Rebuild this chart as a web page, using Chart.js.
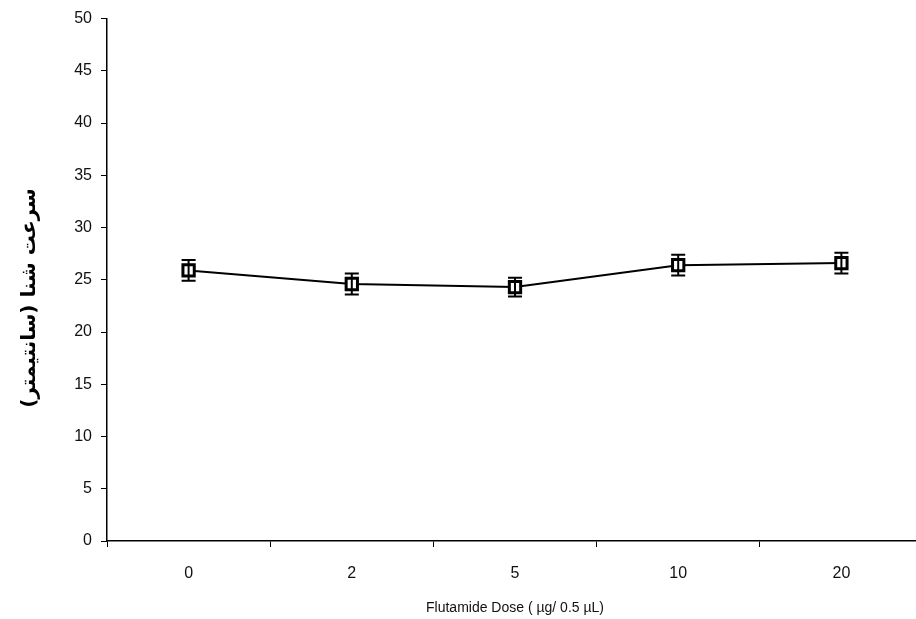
<!DOCTYPE html>
<html>
<head>
<meta charset="utf-8">
<script src="https://cdn.jsdelivr.net/npm/chart.js@4.4.1/dist/chart.umd.min.js"></script>
<style>
  html, body { margin: 0; padding: 0; background: #fff; overflow: hidden; }
  #wrap { width: 934px; height: 619px; }
</style>
</head>
<body>
<div id="wrap"><canvas id="c" width="934" height="619"></canvas></div>
<script>
const doses = ['0', '2', '5', '10', '20'];
const swimSpeed = [25.9, 24.6, 24.3, 26.4, 26.6];
const speedError = [1.0, 1.0, 0.9, 1.0, 1.0];
const yTicks = [0, 5, 10, 15, 20, 25, 30, 35, 40, 45, 50];
const xTitle = 'Flutamide Dose ( µg/ 0.5 µL)';
const yTitle = 'سرعت شنا (سانتیمتر)';

const errorBars = {
  id: 'errorBars',
  afterDatasetsDraw(chart) {
    const ctx = chart.ctx;
    const meta = chart.getDatasetMeta(0);
    const y = chart.scales.y;
    ctx.save();
    ctx.strokeStyle = '#000';
    ctx.lineWidth = 2;
    meta.data.forEach((pt, i) => {
      const top = y.getPixelForValue(swimSpeed[i] + speedError[i]);
      const bot = y.getPixelForValue(swimSpeed[i] - speedError[i]);
      ctx.beginPath();
      ctx.moveTo(pt.x, top); ctx.lineTo(pt.x, bot);
      ctx.moveTo(pt.x - 7, top); ctx.lineTo(pt.x + 7, top);
      ctx.moveTo(pt.x - 7, bot); ctx.lineTo(pt.x + 7, bot);
      ctx.stroke();
    });
    ctx.restore();
  }
};

const yTitlePlugin = {
  id: 'yTitlePlugin',
  afterDraw(chart) {
    const ctx = chart.ctx;
    const area = chart.chartArea;
    ctx.save();
    ctx.translate(30, area.top + (area.bottom - area.top) * 0.535);
    ctx.rotate(-Math.PI / 2);
    ctx.direction = 'rtl';
    ctx.textAlign = 'center';
    ctx.textBaseline = 'middle';
    ctx.fillStyle = '#000';
    ctx.font = 'bold 20px "DejaVu Sans", sans-serif';
    ctx.fillText(yTitle, 0, 0);
    ctx.restore();
  }
};

new Chart(document.getElementById('c'), {
  type: 'line',
  data: {
    labels: doses,
    datasets: [{
      data: swimSpeed,
      borderColor: '#000',
      borderWidth: 2,
      tension: 0,
      pointStyle: 'rect',
      pointRadius: 8,
      pointBorderWidth: 3,
      pointBackgroundColor: '#fff',
      pointBorderColor: '#000'
    }]
  },
  options: {
    responsive: false,
    animation: false,
    devicePixelRatio: 1,
    layout: { padding: { top: 16, right: 9, bottom: 2, left: 0 } },
    plugins: { legend: { display: false }, tooltip: { enabled: false } },
    scales: {
      x: {
        type: 'category',
        offset: true,
        grid: { display: true, drawOnChartArea: false, offset: true, tickLength: 6, color: '#000', lineWidth: 1 },
        border: { display: true, color: '#000', width: 1.5 },
        ticks: { color: '#111', font: { family: 'Liberation Sans, Arial, sans-serif', size: 16 }, padding: 17, maxRotation: 0 },
        title: { display: true, text: xTitle, color: '#111', font: { family: 'Liberation Sans, Arial, sans-serif', size: 14 }, padding: { top: 0, bottom: 0 } }
      },
      y: {
        min: 0, max: 50,
        afterBuildTicks(scale) { scale.ticks = yTicks.map(v => ({ value: v })); },
        afterFit(scale) { scale.width = 107; },
        grid: { display: true, drawOnChartArea: false, tickLength: 6, color: '#000', lineWidth: 1 },
        border: { display: true, color: '#000', width: 1.5 },
        ticks: { color: '#111', font: { family: 'Liberation Sans, Arial, sans-serif', size: 16 }, padding: 9 },
        title: { display: false }
      }
    }
  },
  plugins: [errorBars, yTitlePlugin]
});
</script>
</body>
</html>
